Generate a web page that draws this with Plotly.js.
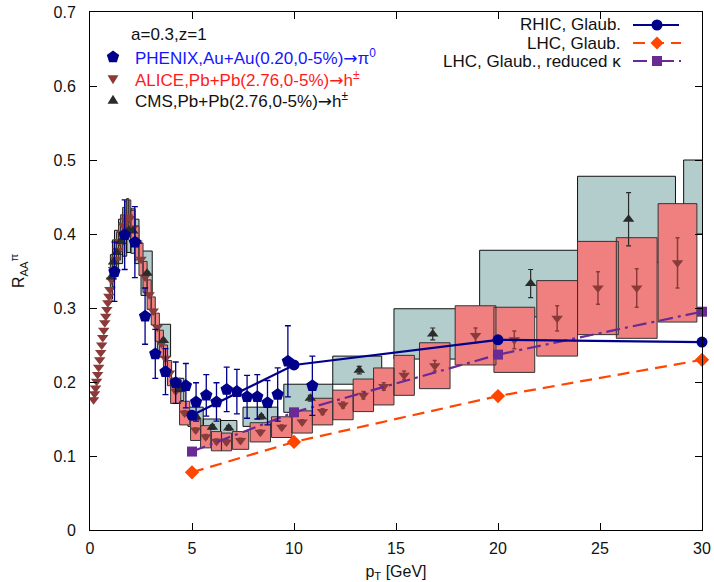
<!DOCTYPE html>
<html><head><meta charset="utf-8">
<script src="https://cdn.plot.ly/plotly-3.0.1.min.js"></script>
<style>html,body{margin:0;padding:0;background:#fff}#chart{width:714px;height:582px}</style>
</head><body><div id="chart"></div>
<script>
// ---------- data ----------
const alicePt = [0.175,0.225,0.275,0.325,0.375,0.425,0.475,0.525,0.575,0.625,0.675,0.725,0.775,0.825,0.875,0.925,0.975,
  1.05,1.15,1.25,1.35,1.45,1.55,1.65,1.75,1.85,1.95,
  2.1,2.3,2.5,2.7,2.9,3.1,3.3,3.5,3.7,3.9,4.2,
  4.64,5.18,5.67,6.2,6.69,7.38,8.35,9.4,10.4,11.4,12.4,13.4,14.4,15.4,16.9,18.9,20.8,22.9,24.9,26.8,28.8];
const aliceR = [0.176,0.184,0.192,0.201,0.210,0.220,0.230,0.240,0.250,0.260,0.270,0.280,0.289,0.298,0.307,0.316,0.325,
  0.338,0.352,0.366,0.378,0.390,0.401,0.411,0.419,0.423,0.421,
  0.408,0.388,0.366,0.342,0.318,0.296,0.274,0.252,0.232,0.212,0.188,
  0.158,0.135,0.126,0.120,0.119,0.121,0.132,0.139,0.146,0.160,0.169,0.182,0.194,0.209,0.222,0.263,0.257,0.286,0.327,0.327,0.361];
const aliceErr = [0.002,0.002,0.002,0.002,0.002,0.002,0.002,0.002,0.002,0.002,0.002,0.002,0.002,0.002,0.002,0.002,0.002,
  0.002,0.002,0.002,0.002,0.002,0.002,0.002,0.002,0.002,0.002,
  0.002,0.002,0.002,0.002,0.002,0.002,0.002,0.002,0.002,0.002,0.003,
  0.003,0.003,0.003,0.003,0.003,0.003,0.003,0.003,0.003,0.004,0.004,0.005,0.005,0.006,0.007,0.010,0.012,0.017,0.022,0.026,0.034];
const aliceSys = [0,0,0,0,0,0,0,0,0,0,0,0,0,0,0,0,0,
  0.022,0.023,0.024,0.024,0.025,0.025,0.025,0.025,0.025,0.025,
  0.024,0.023,0.022,0.021,0.020,0.019,0.019,0.018,0.018,0.017,0.017,
  0.016,0.014,0.015,0.013,0.012,0.012,0.013,0.014,0.015,0.018,0.020,0.022,0.025,0.027,0.031,0.040,0.044,0.051,0.063,0.068,0.080];
const aliceHalfW = [0.025,0.025,0.025,0.025,0.025,0.025,0.025,0.025,0.025,0.025,0.025,0.025,0.025,0.025,0.025,0.025,0.025,
  0.05,0.05,0.05,0.05,0.05,0.05,0.05,0.05,0.05,0.05,
  0.1,0.1,0.1,0.1,0.1,0.1,0.1,0.1,0.1,0.1,0.25,
  0.25,0.25,0.25,0.25,0.25,0.4,0.5,0.5,0.5,0.5,0.5,0.5,0.5,0.5,0.75,1.0,1.0,1.0,1.0,1.0,0.95];

const cmsPt  = [1.05,1.15,1.3,1.5,1.7,1.9,2.1,2.3,2.8,3.6,4.4,5.2,6.0,6.8,8.4,10.8,13.2,16.8,21.6,26.4,32.0];
const cmsR   = [0.342,0.362,0.375,0.390,0.400,0.405,0.404,0.390,0.347,0.256,0.190,0.153,0.139,0.138,0.153,0.178,0.216,0.265,0.333,0.420,0.450];
const cmsErr = [0.002,0.002,0.002,0.002,0.002,0.002,0.002,0.002,0.002,0.002,0.003,0.003,0.003,0.003,0.003,0.004,0.005,0.008,0.019,0.036,0.050];
const cmsSys = [0.030,0.030,0.030,0.030,0.030,0.030,0.030,0.030,0.030,0.022,0.015,0.013,0.011,0.010,0.013,0.019,0.019,0.034,0.045,0.058,0.050];
const cmsLo  = [1.0,1.1,1.2,1.4,1.6,1.8,2.0,2.2,2.5,3.3,4.0,4.8,5.55,6.4,7.5,9.5,11.9,14.9,19.1,23.9,29.1];
const cmsHi  = [1.1,1.2,1.4,1.6,1.8,2.0,2.2,2.4,3.05,3.95,4.6,5.55,6.4,7.2,9.2,11.9,14.3,18.7,23.9,28.7,35.2];

const phenixPt  = [1.2,1.7,2.2,2.7,3.2,3.7,4.2,4.7,5.2,5.7,6.2,6.7,7.2,7.7,8.2,8.7,9.2,9.7,10.9];
const phenixR   = [0.349,0.399,0.389,0.289,0.238,0.214,0.199,0.195,0.173,0.182,0.173,0.190,0.187,0.180,0.180,0.172,0.183,0.228,0.195];
const phenixErr = [0.040,0.047,0.048,0.038,0.033,0.031,0.028,0.030,0.026,0.028,0.026,0.030,0.030,0.029,0.030,0.030,0.036,0.048,0.040];

const rhicPt = [5,10,20,30];   const rhicR = [0.155,0.223,0.257,0.254];
const lhcPt  = [5,10,20,30];   const lhcR  = [0.078,0.119,0.181,0.230];
const redPt  = [5,10,20,30];   const redR  = [0.106,0.159,0.237,0.295];

const ARROW = '<span style="font-family:DejaVu Sans">→</span>';
const legendLeft  = ['PHENIX,Au+Au(0.20,0-5%)'+ARROW+'π<sup>0</sup>','ALICE,Pb+Pb(2.76,0-5%)'+ARROW+'h<sup>±</sup>','CMS,Pb+Pb(2.76,0-5%)'+ARROW+'h<sup>±</sup>'];
const legendRight = ['RHIC, Glaub.','LHC, Glaub.','LHC, Glaub., reduced κ'];

// ---------- helpers ----------
function boxes(lo, hi, c, s){
  const xs=[], ys=[];
  for(let i=0;i<c.length;i++){
    if(!s[i]) continue;
    xs.push(lo[i],hi[i],hi[i],lo[i],lo[i],null);
    ys.push(c[i]-s[i],c[i]-s[i],c[i]+s[i],c[i]+s[i],c[i]-s[i],null);
  }
  return {xs, ys};
}
const aLo = alicePt.map((p,i)=>p-aliceHalfW[i]);
const aHi = alicePt.map((p,i)=>p+aliceHalfW[i]);
const aB = boxes(aLo, aHi, aliceR, aliceSys);
const cB = boxes(cmsLo, cmsHi, cmsR, cmsSys);

const FONT = 'Liberation Sans, Arial, sans-serif';
const navy='#00008b', brown='#8b3a3a', orange='#ff4500', purple='#6a2a96', dark='#2b2b2b';

const traces = [
  {x:cB.xs, y:cB.ys, mode:'lines', fill:'toself', fillcolor:'#b3cccc', line:{color:'#111',width:1}, hoverinfo:'skip', showlegend:false},
  {x:aB.xs, y:aB.ys, mode:'lines', fill:'toself', fillcolor:'#f08080', line:{color:'#333',width:1}, hoverinfo:'skip', showlegend:false},
  {x:alicePt, y:aliceR, mode:'markers', marker:{symbol:'triangle-down', size:10, color:brown},
   error_y:{type:'data', array:aliceErr, color:brown, thickness:1.5, width:2}, showlegend:false},
  {x:cmsPt, y:cmsR, mode:'markers', marker:{symbol:'triangle-up', size:10, color:dark},
   error_y:{type:'data', array:cmsErr, color:dark, thickness:1.2, width:2.5}, showlegend:false},
  {x:lhcPt, y:lhcR, mode:'lines+markers', line:{color:orange, width:2.2, dash:'12px,7px'},
   marker:{symbol:'diamond', size:11, color:orange}, cliponaxis:false, showlegend:false},
  {x:redPt, y:redR, mode:'lines+markers', line:{color:purple, width:2.2, dash:'14px,5px,3px,5px'},
   marker:{symbol:'square', size:10, color:purple}, cliponaxis:false, showlegend:false},
  {x:rhicPt, y:rhicR, mode:'lines+markers', line:{color:navy, width:2.2},
   marker:{symbol:'circle', size:11, color:navy}, cliponaxis:false, showlegend:false},
  {x:phenixPt, y:phenixR, mode:'markers', marker:{symbol:'pentagon', size:13, color:navy},
   error_y:{type:'data', array:phenixErr, color:navy, thickness:1.3, width:3}, showlegend:false}
];

// pixel -> paper conversion for legend placement
const ML=90, MR=12, MT=12, MB=52, W=714, H=582;
const PW=W-ML-MR, PH=H-MT-MB;
const px=v=>(v-ML)/PW, py=v=>(H-MB-v)/PH;

const LF = 17;
const annotations = [
  {text:'a=0.3,z=1', x:px(129), y:py(34), xref:'paper', yref:'paper', xanchor:'left', yanchor:'middle', showarrow:false, font:{size:LF,color:'#111',family:FONT}},
  {text:legendLeft[0], x:px(133), y:py(57), xref:'paper', yref:'paper', xanchor:'left', yanchor:'middle', showarrow:false, font:{size:LF,color:'#1515ff',family:FONT}},
  {text:legendLeft[1], x:px(133), y:py(79), xref:'paper', yref:'paper', xanchor:'left', yanchor:'middle', showarrow:false, font:{size:LF,color:'#ff1a1a',family:FONT}},
  {text:legendLeft[2], x:px(133), y:py(100), xref:'paper', yref:'paper', xanchor:'left', yanchor:'middle', showarrow:false, font:{size:LF,color:'#111',family:FONT}},
  {text:legendRight[0], x:px(623), y:py(25), xref:'paper', yref:'paper', xanchor:'right', yanchor:'middle', showarrow:false, font:{size:LF,color:'#111',family:FONT}},
  {text:legendRight[1], x:px(623), y:py(43), xref:'paper', yref:'paper', xanchor:'right', yanchor:'middle', showarrow:false, font:{size:LF,color:'#111',family:FONT}},
  {text:legendRight[2], x:px(623), y:py(61), xref:'paper', yref:'paper', xanchor:'right', yanchor:'middle', showarrow:false, font:{size:LF,color:'#111',family:FONT}}
];

function mk(path, cx, cy, color){
  return {type:'path', path:path, xref:'paper', yref:'paper', xsizemode:'pixel', ysizemode:'pixel',
    xanchor:px(cx), yanchor:py(cy), fillcolor:color, line:{width:0}};
}
const pent='M0,6.5L6.2,2L3.8,-5.3L-3.8,-5.3L-6.2,2Z';
const triD='M-5.5,3.8L5.5,3.8L0,-5.2Z';
const triU='M-5.5,-3.8L5.5,-3.8L0,5.2Z';
const diam='M0,6.5L6.5,0L0,-6.5L-6.5,0Z';
const sq='M-5,-5L5,-5L5,5L-5,5Z';

const shapes = [
  mk(pent,113,57,navy), mk(triD,113,79,brown), mk(triU,113,100,dark),
  {type:'line', xref:'paper', yref:'paper', x0:px(633), x1:px(679), y0:py(25), y1:py(25), line:{color:navy,width:2.2}},
  {type:'line', xref:'paper', yref:'paper', x0:px(633), x1:px(681), y0:py(43), y1:py(43), line:{color:orange,width:2.2,dash:'12px,7px'}},
  {type:'line', xref:'paper', yref:'paper', x0:px(633), x1:px(681), y0:py(61), y1:py(61), line:{color:purple,width:2.2,dash:'14px,5px,3px,5px'}},
  {type:'circle', xref:'paper', yref:'paper', xsizemode:'pixel', ysizemode:'pixel', xanchor:px(657), yanchor:py(25),
   x0:-5.5, x1:5.5, y0:-5.5, y1:5.5, fillcolor:navy, line:{width:0}},
  mk(diam,657,43,orange), mk(sq,657,61,purple)
];

const axisCommon = {showline:true, linecolor:'#000', linewidth:1, mirror:'ticks', ticks:'inside', ticklen:7,
  tickcolor:'#000', tickwidth:1, showgrid:false, zeroline:false, tickfont:{size:16,color:'#111',family:FONT}};

const layout = {
  width:W, height:H, margin:{l:ML, r:MR, t:MT, b:MB},
  paper_bgcolor:'#fff', plot_bgcolor:'#fff', showlegend:false,
  font:{family:FONT, size:16, color:'#111'},
  xaxis: Object.assign({}, axisCommon, {range:[0,30], dtick:5, tick0:0, ticklabelstandoff:4,
    title:{text:'p<sub>T</sub> [GeV]', font:{size:16,family:FONT,color:'#111'}, standoff:9}}),
  yaxis: Object.assign({}, axisCommon, {range:[0,0.7], dtick:0.1, tick0:0, ticklabelstandoff:10,
    title:{text:'R<sub>AA</sub><sup>π</sup>', font:{size:16,family:FONT,color:'#111'}, standoff:24}}),
  annotations, shapes
};

Plotly.newPlot('chart', traces, layout, {staticPlot:true, displayModeBar:false});
</script>
</body></html>
